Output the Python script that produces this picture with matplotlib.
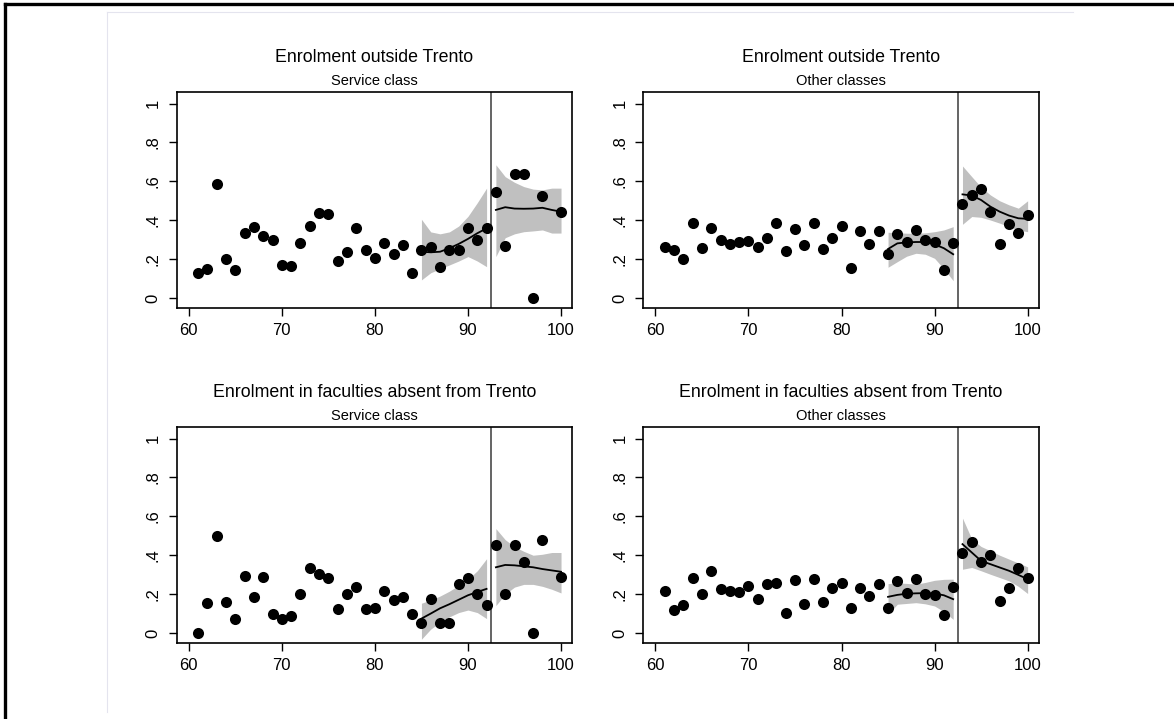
import numpy as np
import matplotlib.pyplot as plt
from matplotlib.lines import Line2D

plt.rcParams['font.family'] = ['Liberation Sans', 'DejaVu Sans']

titles = ['Enrolment outside Trento', 'Enrolment outside Trento',
          'Enrolment in faculties absent from Trento', 'Enrolment in faculties absent from Trento']
subtitles = ['Service class', 'Other classes', 'Service class', 'Other classes']

# x values - 99 missing for service class panels
x_all = list(range(61, 101))
x_no99 = list(range(61, 99)) + [100]

# panel 1: outside Trento, service class
y1 = [0.127, 0.151, 0.587, 0.200, 0.142, 0.334, 0.364, 0.321, 0.298, 0.172,
      0.166, 0.283, 0.372, 0.437, 0.434, 0.192, 0.238, 0.358, 0.249, 0.206,
      0.285, 0.226, 0.274, 0.130, 0.249, 0.262, 0.160, 0.249, 0.249, 0.362,
      0.300, 0.358, 0.545, 0.269, 0.638, 0.638, 0.000, 0.523, 0.444]
# panel 2: outside Trento, other classes
y2 = [0.262, 0.245, 0.200, 0.384, 0.257, 0.360, 0.298, 0.280, 0.286, 0.295,
      0.262, 0.307, 0.386, 0.244, 0.355, 0.274, 0.388, 0.252, 0.307, 0.372,
      0.153, 0.343, 0.280, 0.346, 0.228, 0.328, 0.290, 0.350, 0.298, 0.286,
      0.144, 0.281, 0.484, 0.532, 0.563, 0.441, 0.280, 0.382, 0.334, 0.425]
# panel 3: faculties absent, service class
y3 = [0.000, 0.155, 0.500, 0.158, 0.072, 0.294, 0.183, 0.289, 0.100, 0.074,
      0.088, 0.202, 0.335, 0.303, 0.282, 0.123, 0.200, 0.239, 0.123, 0.128,
      0.215, 0.171, 0.183, 0.100, 0.049, 0.176, 0.053, 0.053, 0.250, 0.282,
      0.200, 0.144, 0.452, 0.200, 0.452, 0.364, 0.000, 0.479, 0.290]
# panel 4: faculties absent, other classes
y4 = [0.215, 0.120, 0.143, 0.282, 0.203, 0.320, 0.225, 0.218, 0.211, 0.241,
      0.174, 0.254, 0.258, 0.105, 0.273, 0.148, 0.278, 0.160, 0.230, 0.258,
      0.129, 0.234, 0.189, 0.251, 0.131, 0.265, 0.208, 0.278, 0.203, 0.196,
      0.095, 0.237, 0.414, 0.466, 0.364, 0.400, 0.165, 0.230, 0.333, 0.285]

# local fits with confidence bands, before and after the cutoff
x_pre = list(range(85, 93))
x_post = list(range(93, 101))

fit1_pre = [0.238, 0.235, 0.238, 0.256, 0.278, 0.304, 0.333, 0.358]
hi1_pre = [0.405, 0.340, 0.330, 0.340, 0.370, 0.420, 0.490, 0.565]
lo1_pre = [0.093, 0.130, 0.150, 0.170, 0.190, 0.213, 0.190, 0.161]
fit1_post = [0.453, 0.467, 0.460, 0.459, 0.460, 0.464, 0.453, 0.444]
hi1_post = [0.685, 0.624, 0.595, 0.573, 0.560, 0.556, 0.565, 0.565]
lo1_post = [0.213, 0.310, 0.330, 0.341, 0.345, 0.350, 0.334, 0.334]

fit2_pre = [0.252, 0.281, 0.286, 0.288, 0.288, 0.276, 0.256, 0.225]
hi2_pre = [0.338, 0.336, 0.333, 0.333, 0.335, 0.341, 0.350, 0.367]
lo2_pre = [0.158, 0.187, 0.215, 0.230, 0.225, 0.204, 0.150, 0.089]
fit2_post = [0.533, 0.527, 0.504, 0.470, 0.444, 0.424, 0.410, 0.407]
hi2_post = [0.679, 0.624, 0.570, 0.530, 0.500, 0.479, 0.462, 0.500]
lo2_post = [0.379, 0.419, 0.415, 0.401, 0.385, 0.367, 0.350, 0.341]

fit3_pre = [0.074, 0.100, 0.127, 0.148, 0.171, 0.194, 0.211, 0.227]
hi3_pre = [0.153, 0.170, 0.190, 0.215, 0.245, 0.276, 0.320, 0.382]
lo3_pre = [-0.032, 0.020, 0.055, 0.083, 0.105, 0.118, 0.105, 0.074]
fit3_post = [0.338, 0.350, 0.348, 0.343, 0.338, 0.329, 0.322, 0.315]
hi3_post = [0.537, 0.480, 0.444, 0.420, 0.400, 0.405, 0.414, 0.414]
lo3_post = [0.141, 0.200, 0.236, 0.250, 0.250, 0.240, 0.225, 0.206]

fit4_pre = [0.186, 0.196, 0.202, 0.204, 0.205, 0.203, 0.194, 0.174]
hi4_pre = [0.254, 0.258, 0.255, 0.251, 0.260, 0.271, 0.276, 0.277]
lo4_pre = [0.096, 0.148, 0.152, 0.156, 0.150, 0.139, 0.110, 0.070]
fit4_post = [0.457, 0.414, 0.371, 0.354, 0.337, 0.320, 0.299, 0.277]
hi4_post = [0.591, 0.483, 0.445, 0.423, 0.400, 0.380, 0.360, 0.340]
lo4_post = [0.328, 0.337, 0.320, 0.302, 0.285, 0.268, 0.240, 0.203]

cutoff = 92.5

panels = [
    (x_no99, y1, fit1_pre, hi1_pre, lo1_pre, fit1_post, hi1_post, lo1_post),
    (x_all, y2, fit2_pre, hi2_pre, lo2_pre, fit2_post, hi2_post, lo2_post),
    (x_no99, y3, fit3_pre, hi3_pre, lo3_pre, fit3_post, hi3_post, lo3_post),
    (x_all, y4, fit4_pre, hi4_pre, lo4_pre, fit4_post, hi4_post, lo4_post),
]

W, H = 1174, 719
fig = plt.figure(figsize=(W / 100, H / 100), dpi=100)

# outer frame (left and top) and faint plot region edges
fig.add_artist(Line2D([5 / W, 5 / W], [0, 1 - 4 / H], transform=fig.transFigure, color='k', lw=2.4))
fig.add_artist(Line2D([5 / W, 1], [1 - 4 / H, 1 - 4 / H], transform=fig.transFigure, color='k', lw=2.4))
fig.add_artist(Line2D([107 / W, 107 / W], [1 - 712 / H, 1 - 12 / H], transform=fig.transFigure,
                      color='#e4e4ee', lw=0.8))
fig.add_artist(Line2D([107 / W, 1073 / W], [1 - 12 / H, 1 - 12 / H], transform=fig.transFigure,
                      color='#e4e4ee', lw=0.8))

lefts = [176.7, 643.3]
tops = [92.3, 427.3]
aw, ah = 395.5, 216.0

for i, (xs, ys, fpre, hpre, lpre, fpost, hpost, lpost) in enumerate(panels):
    left = lefts[i % 2]
    top = tops[i // 2]
    ax = fig.add_axes([left / W, 1 - (top + ah) / H, aw / W, ah / H])

    ax.fill_between(x_pre, lpre, hpre, color='#c0c0c0', lw=0, zorder=1)
    ax.fill_between(x_post, lpost, hpost, color='#c0c0c0', lw=0, zorder=1)
    ax.plot(x_pre, fpre, color='k', lw=1.3, zorder=2)
    ax.plot(x_post, fpost, color='k', lw=1.3, zorder=2)
    ax.axvline(cutoff, color='#4a4a4a', lw=1.2, zorder=2)
    ax.plot(xs, ys, 'o', color='k', ms=8, mew=0, zorder=3)

    ax.set_xlim(58.7, 101.2)
    ax.set_ylim(-0.053, 1.058)
    ax.set_xticks([60, 70, 80, 90, 100])
    ax.set_yticks([0, 0.2, 0.4, 0.6, 0.8, 1.0])
    ax.set_yticklabels(['0', '.2', '.4', '.6', '.8', '1'], rotation=90, va='center')
    ax.tick_params(direction='out', length=5.5, width=1, labelsize=12, pad=5)
    ax.tick_params(axis='y', pad=6)
    for side in ['top', 'right', 'bottom', 'left']:
        ax.spines[side].set_linewidth(1.2)

    ax.text(0.5, 1.159, titles[i], transform=ax.transAxes, ha='center', va='center', fontsize=12.8)
    ax.text(0.5, 1.052, subtitles[i], transform=ax.transAxes, ha='center', va='center', fontsize=10.5)

fig.savefig('out.png', dpi=100)
